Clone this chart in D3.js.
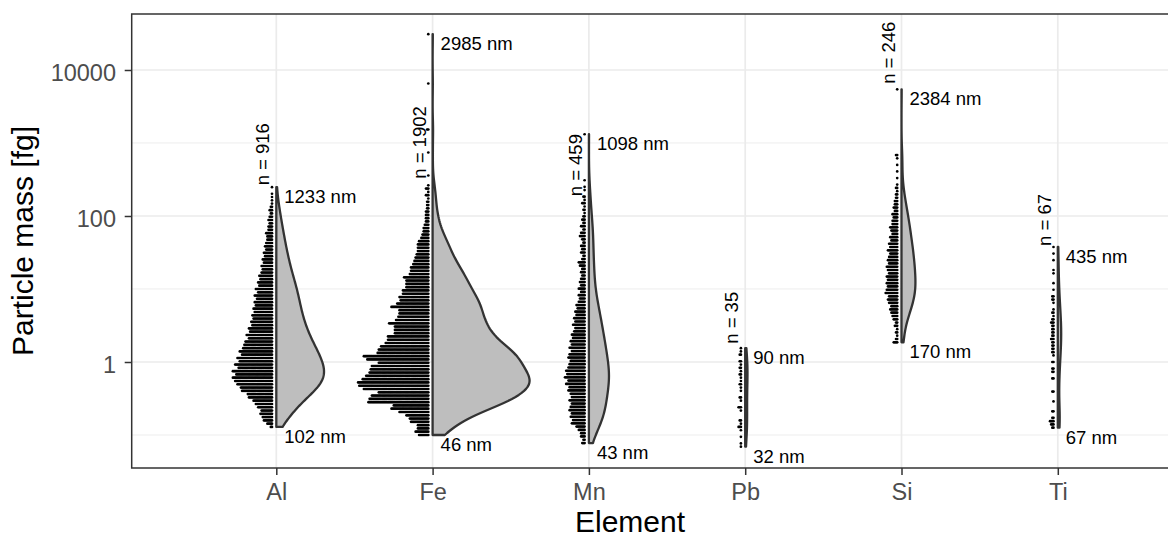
<!DOCTYPE html>
<html>
<head>
<meta charset="utf-8">
<script src="https://cdn.jsdelivr.net/npm/d3@7"></script>
<style>
  body { margin: 0; background: #ffffff; }
  svg { display: block; font-family: "Liberation Sans", Arial, Helvetica, sans-serif; }
</style>
</head>
<body>
<div id="chart"></div>
<script>
//~~~~~~~~~~~~~~~~~~DATA
let elements = ['Al', 'Fe', 'Mn', 'Pb', 'Si', 'Ti'];
let nParticles = [916, 1902, 459, 35, 246, 67];
let maxDiameter = [1233, 2985, 1098, 90, 2384, 435];
let minDiameter = [102, 46, 43, 32, 170, 67];

//log10 of the mass [fg] of the lowest dot bin of each element
let lowestBin = [-0.89, -1.0, -1.11, -1.16, 0.27, -0.90];
//log10 mass where the "n = ..." label starts
let nLabelAt = [2.42, 2.51, 2.27, 0.25, 3.81, 1.59];
//height of one dot bin in log10 units
let binWidth = 0.045;

//particles per bin, lowest bin first
let alCounts = [2, 5, 8, 9, 11, 10, 13, 15, 17, 21,
  22, 27, 28, 31, 33, 35, 32, 35, 30, 33,
  29, 31, 27, 29, 26, 25, 24, 21, 23, 20,
  21, 18, 19, 17, 18, 16, 17, 15, 16, 14,
  16, 13, 15, 12, 13, 11, 12, 10, 9, 10,
  8, 9, 7, 8, 6, 7, 6, 5, 5, 6,
  4, 4, 3, 4, 3, 2, 3, 2, 1, 1,
  1, 1, 0, 1];
let feCounts = [9, 12, 10, 10, 16, 17, 20, 26, 33, 31,
  53, 52, 50, 44, 57, 61, 62, 58, 55, 52,
  51, 50, 44, 54, 57, 45, 44, 42, 38, 36,
  36, 30, 30, 30, 35, 29, 27, 26, 26, 33,
  28, 25, 26, 23, 23, 20, 20, 20, 22, 17,
  16, 16, 14, 13, 12, 11, 10, 10, 10, 9,
  7, 6, 5, 5, 4, 3, 3, 3, 3, 2,
  2, 2, 1, 3, 1, 3, 1, 0, 0, 1,
  0, 0, 0, 0, 0, 0, 1, 0, 0, 0,
  0, 0, 0, 2, 0, 0, 0, 0, 0, 0,
  0, 0, 0, 0, 0, 0, 0, 1, 0, 0,
  0, 0, 0, 0, 0, 0, 0, 0, 0, 0,
  0, 0, 1];
let mnCounts = [3, 2, 4, 4, 6, 8, 12, 11, 13, 12,
  14, 13, 12, 14, 12, 13, 15, 14, 17, 15,
  18, 16, 17, 15, 14, 13, 15, 14, 12, 14,
  12, 13, 11, 12, 10, 9, 11, 9, 10, 8,
  9, 7, 8, 6, 5, 6, 4, 6, 4, 5,
  4, 3, 4, 3, 5, 6, 3, 2, 4, 3,
  4, 2, 3, 5, 4, 2, 4, 2, 3, 2,
  1, 2, 1, 3, 1, 2, 0, 1, 1, 0,
  1, 0, 0, 0, 0, 0, 0, 0, 0, 0,
  0, 0, 0, 0, 1];
let pbCounts = [1, 1, 0, 1, 0, 1, 3, 1, 2, 0,
  0, 1, 3, 0, 1, 2, 0, 1, 1, 2,
  1, 1, 2, 1, 2, 1, 2, 0, 2, 1,
  1];
let siCounts = [4, 2, 1, 2, 1, 3, 2, 4, 5, 6,
  7, 6, 8, 9, 8, 11, 10, 9, 10, 9,
  10, 8, 9, 10, 8, 9, 8, 7, 9, 7,
  8, 6, 7, 5, 6, 7, 5, 5, 4, 5,
  3, 4, 3, 3, 2, 2, 1, 2, 1, 0,
  1, 0, 1, 0, 1, 0, 1, 2, 0, 0,
  0, 0, 0, 0, 0, 0, 0, 0, 0, 0,
  0, 0, 0, 0, 0, 0, 0, 1];
let tiCounts = [2, 3, 4, 2, 0, 2, 0, 0, 1, 0,
  0, 2, 0, 0, 0, 2, 0, 2, 2, 0,
  2, 0, 1, 2, 2, 2, 2, 3, 2, 2,
  2, 2, 3, 2, 1, 2, 1, 0, 1, 2,
  2, 0, 1, 0, 1, 0, 0, 1, 1, 0,
  0, 1, 0, 1, 0, 1];
let countsByElement = [alCounts, feCounts, mnCounts, pbCounts, siCounts, tiCounts];

//y axis breaks
let majorTicks = [1, 100, 10000];
let minorTicks = [0.1, 10, 1000];

//~~~~~~~~~~~~~~~~~~LAYOUT
let width = 1168;
let height = 540;
let panelLeft = 131.7;
let panelRight = 1200;  //panel runs past the right edge of the picture
let panelTop = 14;
let panelBottom = 468;

let dotRadius = 1.35;
let dotStep = 1.15;
let maxViolin = 97;

let svg = d3.select('#chart')
  .append('svg')
  .attr('width', width)
  .attr('height', height);

let x = d3.scalePoint()
  .domain(elements)
  .range([276.3, 1057.8]);

let y = d3.scaleLog()
  .domain([Math.pow(10, -1.452), Math.pow(10, 4.767)])
  .range([panelBottom, panelTop]);

//~~~~~~~~~~~~~~~~~~GRID
svg.selectAll('.minor')
  .data(minorTicks)
  .enter()
  .append('line')
  .attr('x1', panelLeft).attr('x2', panelRight)
  .attr('y1', function(d) { return y(d); })
  .attr('y2', function(d) { return y(d); })
  .attr('stroke', '#ebebeb')
  .attr('stroke-width', 0.9);

svg.selectAll('.major')
  .data(majorTicks)
  .enter()
  .append('line')
  .attr('x1', panelLeft).attr('x2', panelRight)
  .attr('y1', function(d) { return y(d); })
  .attr('y2', function(d) { return y(d); })
  .attr('stroke', '#ebebeb')
  .attr('stroke-width', 1.7);

svg.selectAll('.vgrid')
  .data(elements)
  .enter()
  .append('line')
  .attr('x1', function(d) { return x(d); })
  .attr('x2', function(d) { return x(d); })
  .attr('y1', panelTop).attr('y2', panelBottom)
  .attr('stroke', '#ebebeb')
  .attr('stroke-width', 1.7);

//~~~~~~~~~~~~~~~~~~DOTS
//every particle becomes one dot, stacked to the left of the element
let dots = [];
let valuesByElement = [];
elements.forEach(function(el, k) {
  let values = [];
  countsByElement[k].forEach(function(c, i) {
    let logMass = lowestBin[k] + i * binWidth;
    for (let j = 0; j < c; j++) {
      dots.push({el: el, logMass: logMass, j: j});
      values.push(logMass);
    }
  });
  valuesByElement.push(values);
});

svg.append('g')
  .selectAll('circle')
  .data(dots)
  .enter()
  .append('circle')
  .attr('cx', function(d) { return x(d.el) - 4.3 - d.j * dotStep; })
  .attr('cy', function(d) { return y(Math.pow(10, d.logMass)); })
  .attr('r', dotRadius)
  .attr('fill', '#000000');

//~~~~~~~~~~~~~~~~~~HALF VIOLINS
//gaussian density on log10 mass, bandwidth like R's nrd0
function nrd0(values) {
  let sorted = values.slice().sort(d3.ascending);
  let sd = d3.deviation(sorted);
  let iqr = d3.quantileSorted(sorted, 0.75) - d3.quantileSorted(sorted, 0.25);
  return 0.9 * Math.min(sd, iqr / 1.34) * Math.pow(sorted.length, -0.2);
}

function density(values, bw, grid) {
  return grid.map(function(t) {
    let s = 0;
    values.forEach(function(v) {
      let z = (t - v) / bw;
      s += Math.exp(-0.5 * z * z);
    });
    return s / (values.length * bw * Math.sqrt(2 * Math.PI));
  });
}

let violins = elements.map(function(el, k) {
  let values = valuesByElement[k];
  let lo = d3.min(values);
  let hi = d3.max(values);
  let grid = d3.range(0, 201).map(function(i) { return lo + (hi - lo) * i / 200; });
  let dens = density(values, nrd0(values), grid);
  //scale = "count": width follows n times density
  return {el: el, lo: lo, hi: hi, grid: grid, nd: dens.map(function(v) { return v * nParticles[k]; })};
});

let widthScale = d3.scaleLinear()
  .domain([0, d3.max(violins, function(v) { return d3.max(v.nd); })])
  .range([0, maxViolin]);

let line = d3.line();

svg.append('g')
  .selectAll('path')
  .data(violins)
  .enter()
  .append('path')
  .attr('d', function(v) {
    let cx = x(v.el);
    let pts = v.grid.map(function(t, i) {
      return [cx + widthScale(v.nd[i]), y(Math.pow(10, t))];
    });
    pts.push([cx, y(Math.pow(10, v.hi))]);
    pts.push([cx, y(Math.pow(10, v.lo))]);
    return line(pts) + 'Z';
  })
  .attr('fill', '#bebebe')
  .attr('stroke', '#333333')
  .attr('stroke-width', 2.3)
  .attr('stroke-linejoin', 'round');

//~~~~~~~~~~~~~~~~~~LABELS
let labels = svg.append('g')
  .attr('font-size', 18.5)
  .attr('fill', '#000000');

//diameter at the largest particle
labels.selectAll('.maxlab')
  .data(violins)
  .enter()
  .append('text')
  .attr('x', function(v) { return x(v.el) + 8; })
  .attr('y', function(v) { return y(Math.pow(10, v.hi)) + 16; })
  .text(function(v, k) { return maxDiameter[k] + ' nm'; });

//diameter at the smallest particle
labels.selectAll('.minlab')
  .data(violins)
  .enter()
  .append('text')
  .attr('x', function(v) { return x(v.el) + 8; })
  .attr('y', function(v) { return y(Math.pow(10, v.lo)) + 16; })
  .text(function(v, k) { return minDiameter[k] + ' nm'; });

//number of particles, written upwards
labels.selectAll('.nlab')
  .data(elements)
  .enter()
  .append('text')
  .attr('transform', function(d, k) {
    return 'translate(' + (x(d) - 7) + ',' + y(Math.pow(10, nLabelAt[k])) + ') rotate(-90)';
  })
  .text(function(d, k) { return 'n = ' + nParticles[k]; });

//~~~~~~~~~~~~~~~~~~AXES
let yAxis = svg.append('g')
  .attr('transform', 'translate(' + panelLeft + ',0)')
  .call(d3.axisLeft(y).tickValues(majorTicks).tickFormat(d3.format('d')).tickSize(7).tickPadding(8.7));

let xAxis = svg.append('g')
  .attr('transform', 'translate(0,' + panelBottom + ')')
  .call(d3.axisBottom(x).tickSize(7).tickPadding(8));

[yAxis, xAxis].forEach(function(ax) {
  ax.select('.domain').remove();
  ax.selectAll('line').attr('stroke', '#333333').attr('stroke-width', 1.5);
  ax.selectAll('text')
    .attr('fill', '#4d4d4d')
    .attr('font-size', 23.5)
    .attr('font-family', '"Liberation Sans", Arial, Helvetica, sans-serif');
});
yAxis.selectAll('text').attr('dy', '0.44em');

//panel border
svg.append('rect')
  .attr('x', panelLeft)
  .attr('y', panelTop)
  .attr('width', panelRight - panelLeft)
  .attr('height', panelBottom - panelTop)
  .attr('fill', 'none')
  .attr('stroke', '#333333')
  .attr('stroke-width', 1.5);

//axis titles
svg.append('text')
  .attr('x', 630)
  .attr('y', 532)
  .attr('text-anchor', 'middle')
  .attr('font-size', 30)
  .attr('fill', '#000000')
  .text('Element');

svg.append('text')
  .attr('transform', 'translate(33,' + ((panelTop + panelBottom) / 2) + ') rotate(-90)')
  .attr('text-anchor', 'middle')
  .attr('font-size', 30)
  .attr('fill', '#000000')
  .text('Particle mass [fg]');
</script>
</body>
</html>
